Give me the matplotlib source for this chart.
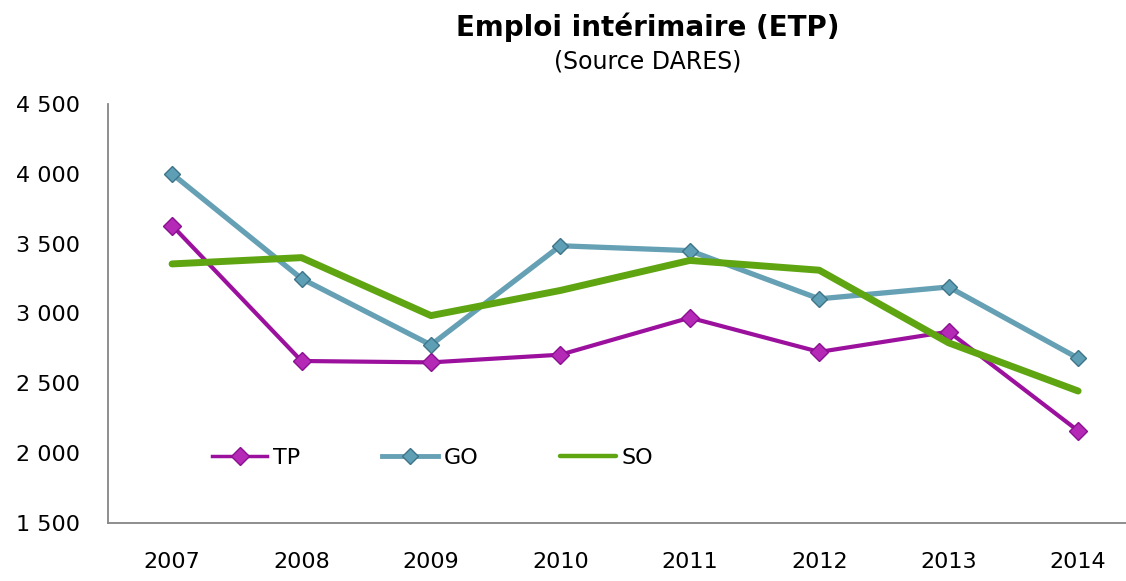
import numpy as np
import matplotlib.pyplot as plt

plt.rcParams['font.family'] = ['DejaVu Sans']

years = ['2007', '2008', '2009', '2010', '2011', '2012', '2013', '2014']
tp = [3630, 2660, 2650, 2705, 2970, 2725, 2870, 2160]
go = [4000, 3250, 2775, 3485, 3450, 3105, 3190, 2680]
so = [3355, 3400, 2985, 3165, 3380, 3310, 2790, 2445]

x = np.arange(len(years))

fig = plt.figure(figsize=(11.26, 5.81), dpi=100)
ax = fig.add_axes([108 / 1126, 1 - 523 / 581, 1 - 108 / 1126, 419 / 581])

ax.plot(x, tp, color='#9B119E', lw=3.0, marker='D', ms=9,
        mfc='#B42AB6', mec='#8A1090', mew=1.0, label='TP', zorder=3)
ax.plot(x, go, color='#65A0B4', lw=3.8, marker='D', ms=8,
        mfc='#5E9FB6', mec='#3F7488', mew=1.0, label='GO', zorder=2)
ax.plot(x, so, color='#5FA511', lw=5.0, solid_capstyle='round',
        label='SO', zorder=4)

ax.set_xlim(-0.495, 7.37)
ax.set_ylim(1500, 4500)
ticks = np.arange(1500, 4501, 500)
ax.set_yticks(ticks)
ax.set_yticklabels([f'{v:,}'.replace(',', ' ') for v in ticks])
ax.set_xticks(x)
ax.set_xticklabels(years)
ax.tick_params(axis='both', length=0, labelsize=16, colors='black')
ax.tick_params(axis='y', pad=20)
ax.tick_params(axis='x', pad=21)

for s in ['top', 'right']:
    ax.spines[s].set_visible(False)
for s in ['left', 'bottom']:
    ax.spines[s].set_color('#868686')
    ax.spines[s].set_linewidth(1.3)

leg = ax.legend(loc='center left', bbox_to_anchor=(0.102, 0.155), ncol=3,
                frameon=False, fontsize=16, handlelength=2.5, handletextpad=0.25,
                columnspacing=3.7, borderpad=0, borderaxespad=0)
for line, w in zip(leg.get_lines(), [2.5, 3.5, 3.2]):
    line.set_linewidth(w)

fig.text(0.575, 1 - 27 / 581, 'Emploi intérimaire (ETP)', ha='center', va='center',
         fontsize=20, fontweight='bold')
fig.text(0.575, 1 - 62 / 581, '(Source DARES)', ha='center', va='center', fontsize=17)

fig.savefig('out.png', dpi=100)
